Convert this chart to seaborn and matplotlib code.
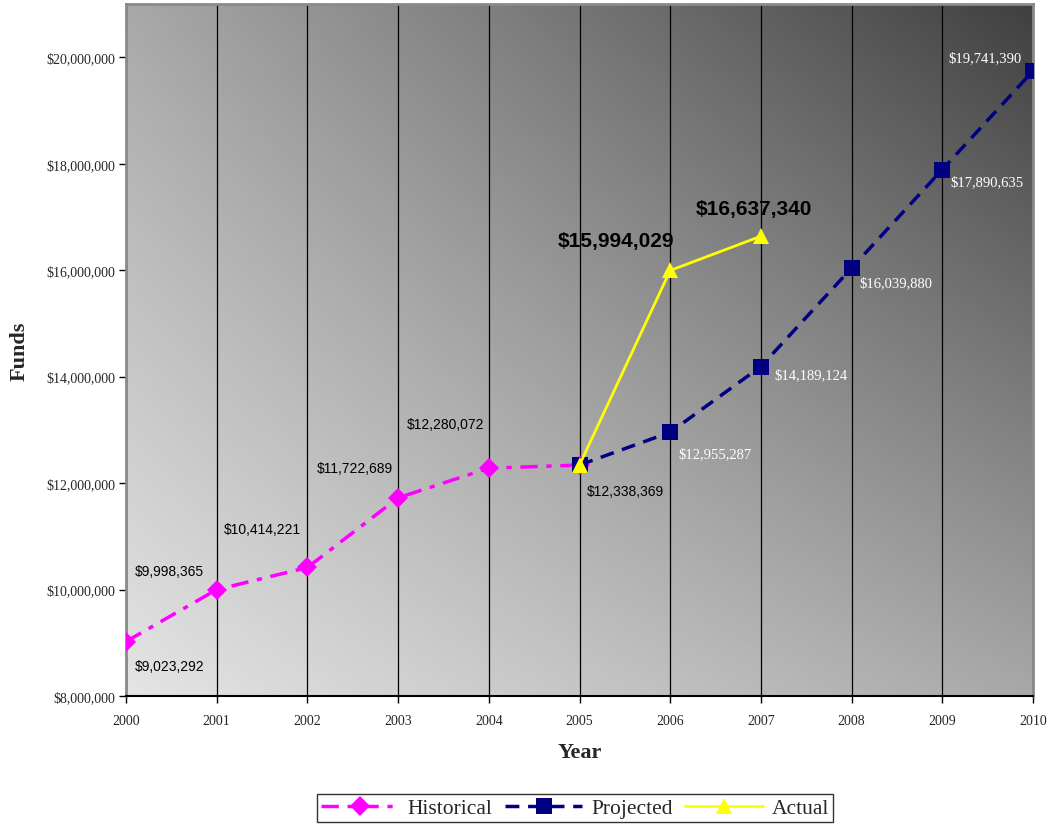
import numpy as np
import pandas as pd
import matplotlib
matplotlib.use("Agg")
import matplotlib.pyplot as plt
import seaborn as sns
from matplotlib.ticker import FuncFormatter

# Fund totals by year
hist_years = [2000, 2001, 2002, 2003, 2004, 2005]
hist_funds = [9023292, 9998365, 10414221, 11722689, 12280072, 12338369]

proj_years = [2005, 2006, 2007, 2008, 2009, 2010]
proj_funds = [12338369, 12955287, 14189124, 16039880, 17890635, 19741390]

actual_years = [2005, 2006, 2007]
actual_funds = [12338369, 15994029, 16637340]

year_ticks = list(range(2000, 2011))
fund_ticks = [8000000, 10000000, 12000000, 14000000, 16000000, 18000000, 20000000]

sns.set_style("white")
plt.rcParams["font.family"] = ["Liberation Serif", "DejaVu Serif"]

W, H = 1051, 829
fig = plt.figure(figsize=(W / 100, H / 100), dpi=100)
ax = fig.add_axes([126 / W, (H - 697) / H, (1033 - 126) / W, (697 - 5) / H])

x0, x1 = 2000, 2010
y0, y1 = 8000000, 21000000

# diagonal grey gradient: light lower-left, dark upper-right
gx = np.linspace(0, 1, 300)
gy = np.linspace(0, 1, 300)
X, Y = np.meshgrid(gx, gy)
bl, br, tl, tr = 228, 168, 168, 64
V = bl * (1 - X) * (1 - Y) + br * X * (1 - Y) + tl * (1 - X) * Y + tr * X * Y
ax.imshow(V / 255.0, cmap="gray", vmin=0, vmax=1, origin="lower",
          extent=[x0, x1, y0, y1], aspect="auto", zorder=0, interpolation="bilinear")

hist_df = pd.DataFrame({"Year": hist_years, "Funds": hist_funds})
proj_df = pd.DataFrame({"Year": proj_years, "Funds": proj_funds})
act_df = pd.DataFrame({"Year": actual_years, "Funds": actual_funds})

sns.lineplot(data=hist_df, x="Year", y="Funds", ax=ax, color="#ff00ff", lw=2.5,
             marker="D", markersize=10, markeredgewidth=0, label="Historical", zorder=3)
ax.lines[-1].set_dashes((5, 2.5, 1.5, 2.5))

sns.lineplot(data=proj_df, x="Year", y="Funds", ax=ax, color="#000080", lw=2.5,
             marker="s", markersize=11, markeredgewidth=0, label="Projected", zorder=4)
ax.lines[-1].set_dashes((4, 2.5))

sns.lineplot(data=act_df, x="Year", y="Funds", ax=ax, color="#ffff00", lw=2,
             marker="^", markersize=12, markeredgewidth=0, label="Actual", zorder=5)

ax.set_xlim(x0, x1)
ax.set_ylim(y0, y1)
ax.set_xticks(year_ticks)
ax.set_xticklabels([str(y) for y in year_ticks])
ax.set_yticks(fund_ticks)
ax.yaxis.set_major_formatter(FuncFormatter(lambda v, p: "${:,.0f}".format(v)))
ax.tick_params(axis="both", direction="out", length=5, width=1, labelsize=10,
               bottom=True, left=True, color="black")
ax.tick_params(axis="x", pad=8)
ax.tick_params(axis="y", pad=3)

ax.grid(axis="x", color="black", lw=0.9)
ax.grid(axis="y", visible=False)

for side in ["left", "top", "right"]:
    ax.spines[side].set_color("#8a8a8a")
    ax.spines[side].set_linewidth(2)
ax.spines["bottom"].set_color("black")
ax.spines["bottom"].set_linewidth(1.5)

ax.set_xlabel("Year", fontsize=16, fontweight="bold", labelpad=11)
ax.set_ylabel("Funds", fontsize=16, fontweight="bold", labelpad=12)

fmt = "${:,.0f}".format
sans = ["Liberation Sans", "DejaVu Sans"]

# historical labels (dx, dy in pixels, alignment)
hist_pos = [(9, -24, "left"), (-13, 19, "right"), (-6, 38, "right"),
            (-5, 30, "right"), (-4, 44, "right"), (7, -26, "left")]
for x, y, (dx, dy, ha) in zip(hist_years, hist_funds, hist_pos):
    ax.annotate(fmt(y), (x, y), xytext=(dx, dy), textcoords="offset pixels",
                ha=ha, va="center", fontsize=10, family=sans, color="black", zorder=6)

proj_pos = [(8, -21, "left"), (13, -8, "left"), (8, -15, "left"),
            (8, -12, "left"), (-11, 13, "right")]
for x, y, (dx, dy, ha) in zip(proj_years[1:], proj_funds[1:], proj_pos):
    ax.annotate(fmt(y), (x, y), xytext=(dx, dy), textcoords="offset pixels",
                ha=ha, va="center", fontsize=10.5, color="white", zorder=6)

act_pos = [(4, 30, "right"), (-7, 28, "center")]
for x, y, (dx, dy, ha) in zip(actual_years[1:], actual_funds[1:], act_pos):
    ax.annotate(fmt(y), (x, y), xytext=(dx, dy), textcoords="offset pixels",
                ha=ha, va="center", fontsize=15, fontweight="bold", family=sans,
                color="black", zorder=6)

handles, labels = ax.get_legend_handles_labels()
ax.get_legend().remove()
leg = fig.legend(handles, labels, loc="center", bbox_to_anchor=(575 / W, (H - 809) / H),
                 ncol=3, fontsize=15.5, frameon=True, fancybox=False, handlelength=3.6,
                 columnspacing=0.6, handletextpad=0.4, borderpad=0.2, borderaxespad=0)
leg.get_frame().set_edgecolor("black")
leg.get_frame().set_linewidth(1)

fig.savefig("out.png", dpi=100, facecolor="white")
